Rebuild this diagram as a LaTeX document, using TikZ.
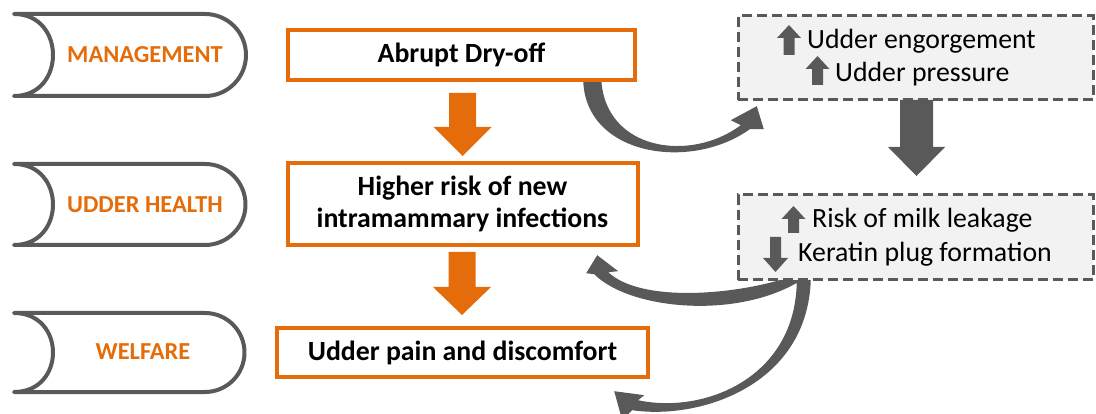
\documentclass[tikz,border=0pt]{standalone}
\usepackage{fontspec}
\setmainfont{Carlito}
\usetikzlibrary{calc,arrows.meta}
\definecolor{orng}{HTML}{E46C0A}
\definecolor{dgrey}{HTML}{595959}
\definecolor{lgrey}{HTML}{F2F2F2}
\newcommand\tabshape[2]{\draw[tabline] (14,#1) -- (205,#1) arc[start angle=-90,end angle=90,radius=#2] -- (14,#1+2*#2) .. controls (66,#1+2*#2) and (66,#1) .. cycle;}
\newcommand\blockarr[7]{\fill[#1] (#2-#6,#3) -- (#2+#6,#3) -- (#2+#6,#4) -- (#2+#7,#4) -- (#2,#5) -- (#2-#7,#4) -- (#2-#6,#4) -- cycle;}
\begin{document}
\begin{tikzpicture}[x=1pt,y=-1pt,
 tabtext/.style={font=\fontsize{24.4}{28}\selectfont\bfseries, text=orng, inner sep=0},
 obox/.style={draw=orng, line width=4pt, fill=white, align=center, font=\fontsize{27.8}{32}\selectfont\bfseries, inner sep=0},
 gbox/.style={draw=dgrey, line width=3pt, dash pattern=on 10pt off 5pt, fill=lgrey, inner sep=0},
 gtext/.style={font=\fontsize{27.8}{32}\selectfont, inner sep=0, anchor=base west},
 tabline/.style={draw=dgrey, line width=4pt, line join=round, line cap=round},
 curved/.style={fill=dgrey},
 ]
\useasboundingbox (0,0) rectangle (1096,414);
% tabs
\tabshape{14}{41}
\tabshape{164}{40.5}
\tabshape{313}{39.5}
\node[tabtext] (tm) at (145,55) {MANAGEMENT};
\node[tabtext] (th) at (145,205) {UDDER HEALTH};
\node[tabtext] (tw) at (143,352) {WELFARE};
% node placement
\path (461.5,55) coordinate (dryc) (462.5,204) coordinate (imic) (462.5,352.5) coordinate (painc)
      (915.5,58) coordinate (gac) (915.5,237.5) coordinate (gbc);
% anchors used by the curved connectors (boxes drawn afterwards)
\path (dryc) node[minimum width=347pt, minimum height=50pt, inner sep=0] (dryp) {}
      (gac) node[minimum width=355pt, minimum height=84pt, inner sep=0] (gap) {}
      (gbc) node[minimum width=355pt, minimum height=85pt, inner sep=0] (gbp) {}
      (imic) node[minimum width=350pt, minimum height=82pt, inner sep=0] (imip) {}
      (painc) node[minimum width=371pt, minimum height=49pt, inner sep=0] (painp) {};
% curved connectors (tapered)
\fill[curved] ($(dryp.south east)+(-52,-2)$) .. controls +(0,77) and +(-60,43) .. ($(gap.south west)+(12,29)$)
  -- ($(gap.south west)+(26,29)$) -- ($(gap.south west)+(19,6)$) -- ($(gap.south west)+(-7,20)$)
  -- ($(gap.south west)+(3,25)$) .. controls +(-51,38) and +(3,72) .. ($(dryp.south east)+(-34,-2)$) -- cycle;
\fill[curved] ($(gbp.south west)+(65,-1)$) .. controls +(-63,41) and +(36,36) .. ($(imip.south east)+(-43.5,29)$)
  -- ($(imip.south east)+(-51.5,28)$) -- ($(imip.south east)+(-40.5,10)$) -- ($(imip.south east)+(-19.5,26)$)
  -- ($(imip.south east)+(-29.5,27)$) .. controls +(32,30) and +(-53,16) .. ($(gbp.south west)+(45,-1)$) -- cycle;
\fill[curved] ($(gbp.south west)+(73,-1)$) .. controls +(-3,106) and +(68,10) .. ($(painp.south east)+(-16,33)$)
  -- ($(painp.south east)+(-26,43)$) -- ($(painp.south east)+(-34,14)$) -- ($(painp.south east)+(-4,18)$)
  -- ($(painp.south east)+(-10,23)$) .. controls +(64,14) and +(0,100) .. ($(gbp.south west)+(59,-1)$) -- cycle;
% grey dashed boxes
\node[gbox, minimum width=355pt, minimum height=84pt] (ga) at (gac) {};
\node[gbox, minimum width=355pt, minimum height=85pt] (gb) at (gbc) {};
% orange boxes
\node[obox, minimum width=347pt, minimum height=50pt] (dry) at (dryc) {Abrupt Dry-off};
\node[obox, minimum width=350pt, minimum height=82pt] (imi) at (imic) {Higher risk of new\\intramammary infections};
\node[obox, minimum width=371pt, minimum height=49pt] (pain) at (painc) {Udder pain and discomfort};
% block arrows
\blockarr{orng}{462.5}{93}{127}{156}{13.5}{29}
\blockarr{orng}{462}{252}{287}{315}{13.5}{29}
\blockarr{dgrey}{916.5}{100}{147}{176}{16.5}{28.5}
% texts in grey boxes
\node[gtext] (t1) at (807,49) {Udder engorgement};
\node[gtext] (t2) at (835,82) {Udder pressure};
\node[gtext] (t3) at (812,228) {Risk of milk leakage};
\node[gtext] (t4) at (798,262) {Keratin plug formation};
\blockarr{dgrey}{789}{55}{38}{25}{5.5}{12}
\blockarr{dgrey}{817.5}{85}{69}{56}{5.5}{12}
\blockarr{dgrey}{793.5}{233}{219}{206}{5.5}{12}
\blockarr{dgrey}{775.5}{237}{258}{272}{5.5}{12.5}
\end{tikzpicture}
\end{document}
